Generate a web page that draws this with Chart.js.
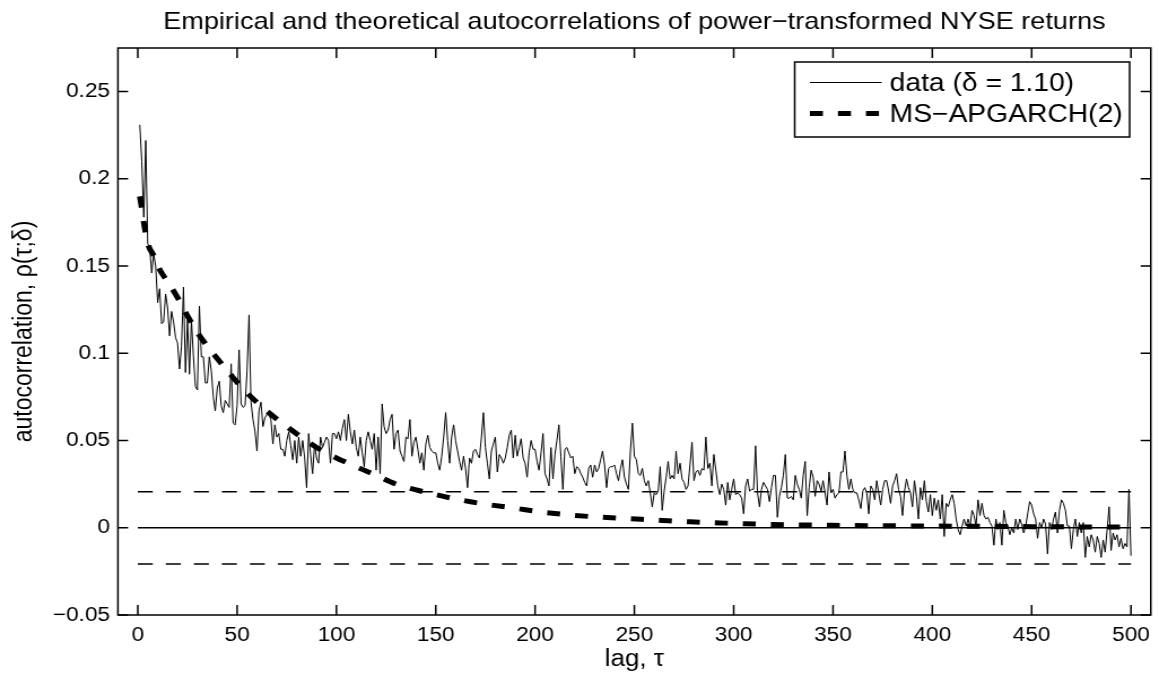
<!DOCTYPE html>
<html>
<head>
<meta charset="utf-8">
<script src="https://cdn.jsdelivr.net/npm/chart.js@4.4.0/dist/chart.umd.min.js"></script>
<style>
html, body { margin: 0; padding: 0; background: #fff; overflow: hidden; }
/* the reference is stretched sideways, so the whole canvas is too */
#wrap { width: 1026px; height: 678px; transform: scaleX(1.1296); transform-origin: 0 0; }
</style>
</head>
<body>
<div id="wrap"><canvas id="graph" width="1026" height="678"></canvas></div>
<script>
'use strict';

// empirical autocorrelation, lags 1..500
const acfValues = [
  0.231, 0.210, 0.178, 0.222, 0.163, 0.160, 0.146, 0.157, 0.150, 0.129,
  0.137, 0.117, 0.118, 0.134, 0.126, 0.110, 0.124, 0.118, 0.109, 0.106,
  0.091, 0.104, 0.138, 0.089, 0.119, 0.088, 0.119, 0.098, 0.081, 0.079,
  0.127, 0.098, 0.098, 0.083, 0.083, 0.098, 0.090, 0.075, 0.067, 0.080,
  0.084, 0.070, 0.066, 0.073, 0.071, 0.069, 0.094, 0.060, 0.059, 0.070,
  0.102, 0.071, 0.069, 0.070, 0.090, 0.122, 0.072, 0.062, 0.055, 0.044,
  0.067, 0.072, 0.058, 0.063, 0.065, 0.065, 0.062, 0.048, 0.059, 0.052,
  0.054, 0.045, 0.045, 0.041, 0.050, 0.055, 0.047, 0.039, 0.050, 0.037,
  0.052, 0.041, 0.050, 0.040, 0.023, 0.054, 0.042, 0.031, 0.048, 0.040,
  0.037, 0.052, 0.046, 0.049, 0.052, 0.050, 0.037, 0.054, 0.054, 0.051,
  0.055, 0.050, 0.057, 0.062, 0.050, 0.065, 0.055, 0.048, 0.056, 0.046,
  0.041, 0.052, 0.043, 0.035, 0.050, 0.055, 0.050, 0.045, 0.054, 0.033,
  0.052, 0.031, 0.071, 0.058, 0.054, 0.056, 0.062, 0.065, 0.045, 0.054,
  0.056, 0.044, 0.041, 0.038, 0.052, 0.051, 0.062, 0.041, 0.049, 0.052,
  0.045, 0.037, 0.043, 0.033, 0.048, 0.053, 0.046, 0.044, 0.043, 0.043,
  0.037, 0.033, 0.041, 0.052, 0.066, 0.050, 0.037, 0.052, 0.059, 0.050,
  0.044, 0.038, 0.033, 0.041, 0.034, 0.023, 0.040, 0.037, 0.044, 0.045,
  0.042, 0.040, 0.052, 0.066, 0.046, 0.037, 0.028, 0.044, 0.048, 0.052,
  0.032, 0.042, 0.040, 0.037, 0.040, 0.046, 0.053, 0.056, 0.040, 0.053,
  0.041, 0.046, 0.051, 0.040, 0.037, 0.029, 0.043, 0.050, 0.045, 0.045,
  0.038, 0.033, 0.043, 0.054, 0.031, 0.028, 0.024, 0.046, 0.028, 0.042,
  0.050, 0.059, 0.041, 0.022, 0.045, 0.046, 0.043, 0.040, 0.041, 0.031,
  0.035, 0.034, 0.031, 0.029, 0.026, 0.024, 0.034, 0.036, 0.029, 0.036,
  0.032, 0.034, 0.039, 0.044, 0.036, 0.023, 0.034, 0.035, 0.035, 0.036,
  0.031, 0.027, 0.034, 0.039, 0.029, 0.025, 0.022, 0.044, 0.060, 0.041,
  0.039, 0.031, 0.030, 0.034, 0.027, 0.024, 0.027, 0.020, 0.012, 0.020,
  0.019, 0.021, 0.035, 0.010, 0.021, 0.029, 0.038, 0.028, 0.030, 0.028,
  0.044, 0.031, 0.037, 0.028, 0.026, 0.022, 0.024, 0.036, 0.049, 0.027,
  0.032, 0.033, 0.030, 0.034, 0.033, 0.052, 0.034, 0.037, 0.024, 0.042,
  0.033, 0.024, 0.019, 0.025, 0.022, 0.013, 0.026, 0.016, 0.022, 0.028,
  0.019, 0.020, 0.019, 0.017, 0.008, 0.024, 0.028, 0.021, 0.022, 0.022,
  0.047, 0.020, 0.012, 0.022, 0.026, 0.024, 0.022, 0.015, 0.023, 0.030,
  0.030, 0.006, 0.018, 0.023, 0.030, 0.042, 0.017, 0.017, 0.018, 0.016,
  0.030, 0.025, 0.022, 0.017, 0.030, 0.038, 0.007, 0.023, 0.033, 0.029,
  0.018, 0.027, 0.025, 0.021, 0.027, 0.020, 0.013, 0.032, 0.020, 0.022,
  0.017, 0.019, 0.020, 0.032, 0.032, 0.044, 0.030, 0.022, 0.028, 0.022,
  0.020, 0.020, 0.016, 0.011, 0.021, 0.023, 0.020, 0.008, 0.024, 0.022,
  0.016, 0.027, 0.020, 0.013, 0.022, 0.027, 0.027, 0.021, 0.014, 0.024,
  0.027, 0.031, 0.022, 0.018, 0.007, 0.021, 0.028, 0.023, 0.020, 0.012,
  0.027, 0.018, 0.005, 0.023, 0.016, 0.027, 0.015, 0.009, 0.019, 0.007,
  0.017, 0.010, 0.016, 0.005, 0.019, -0.005, 0.014, 0.012, 0.016, 0.019,
  0.014, 0.005, -0.001, -0.004, 0.001, 0.005, 0.001, 0.005, 0.001, 0.010,
  0.007, 0.001, 0.016, 0.007, 0.014, 0.007, 0.005, 0.006, 0.003, 0.001,
  -0.010, 0.005, -0.001, 0.003, -0.010, 0.010, 0.003, 0.001, -0.004, -0.000,
  -0.003, 0.005, -0.001, 0.005, 0.002, -0.003, 0.001, 0.008, 0.015, 0.013,
  0.008, 0.005, -0.006, 0.003, 0.000, 0.005, 0.002, -0.015, 0.003, -0.001,
  0.005, 0.009, -0.003, 0.010, 0.016, 0.014, 0.010, 0.001, 0.001, -0.012,
  -0.001, 0.005, -0.005, 0.003, -0.003, 0.003, -0.017, -0.005, -0.011, -0.004,
  -0.007, -0.014, -0.005, -0.009, -0.017, -0.007, -0.014, -0.001, 0.012, -0.013,
  -0.003, -0.007, -0.004, -0.011, -0.006, -0.012, -0.009, -0.011, 0.022, -0.016
];
const lags = acfValues.map((v, i) => i + 1);

// theoretical MS-APGARCH(2) autocorrelation, read at some lags
const msLags = [1, 2, 3, 5, 8, 11, 15, 20, 25, 30, 35, 40, 48, 57, 67, 75, 90, 100, 110, 120,
  131, 147, 160, 175, 190, 200, 216, 231, 246, 264, 278, 293, 306, 320, 350, 380, 410, 440, 470, 500];
const msValues = [0.190, 0.183, 0.175, 0.163, 0.156, 0.148, 0.141, 0.132, 0.1215, 0.112,
  0.104, 0.097, 0.086, 0.075, 0.065, 0.058, 0.046, 0.040, 0.035, 0.030,
  0.0246, 0.0198, 0.0165, 0.0135, 0.0112, 0.0095, 0.0075, 0.0062, 0.0053, 0.0042,
  0.0034, 0.0028, 0.0023, 0.0019, 0.0014, 0.0011, 0.0009, 0.0007, 0.0005, 0.0004];

// +/- confidence band and zero line
const bandLags = [0, 500];
const bandLevel = 0.0207;

const xTicks = [0, 50, 100, 150, 200, 250, 300, 350, 400, 450, 500];
const yTicks = [-0.05, 0, 0.05, 0.1, 0.15, 0.2, 0.25];

const titleText = 'Empirical and theoretical autocorrelations of power\u2212transformed NYSE returns';
const xTitle = 'lag, \u03c4';
const yTitle = 'autocorrelation, \u03c1(\u03c4;\u03b4)';
const seriesNames = ['data (\u03b4 = 1.10)', 'MS\u2212APGARCH(2)'];

const FONT = '"Liberation Sans", Arial, Helvetica, sans-serif';

function fmtTick(v) {
  return v < 0 ? '\u2212' + String(Math.abs(v)) : String(v);
}

// box, inward ticks, titles and legend (MATLAB look)
const framePlugin = {
  id: 'frame',
  afterDraw(chart) {
    const ctx = chart.ctx;
    const a = chart.chartArea;
    const xs = chart.scales.x;
    const ys = chart.scales.y;
    ctx.save();
    ctx.strokeStyle = '#000';
    ctx.lineWidth = 1.5;
    ctx.setLineDash([]);
    ctx.strokeRect(a.left, a.top, a.right - a.left, a.bottom - a.top);
    ctx.beginPath();
    xTicks.forEach(function(v) {
      const px = xs.getPixelForValue(v);
      ctx.moveTo(px, a.bottom); ctx.lineTo(px, a.bottom - 10);
      ctx.moveTo(px, a.top); ctx.lineTo(px, a.top + 10);
    });
    yTicks.forEach(function(v) {
      const py = ys.getPixelForValue(v);
      ctx.moveTo(a.left, py); ctx.lineTo(a.left + 9, py);
      ctx.moveTo(a.right, py); ctx.lineTo(a.right - 9, py);
    });
    ctx.stroke();

    ctx.fillStyle = '#000';
    // title
    ctx.font = '24px ' + FONT;
    ctx.textAlign = 'center';
    ctx.textBaseline = 'alphabetic';
    ctx.fillText(titleText, (a.left + a.right) / 2, 29);
    // axis titles
    ctx.font = '23px ' + FONT;
    ctx.textBaseline = 'middle';
    ctx.fillText(xTitle, (a.left + a.right) / 2, 660);
    ctx.save();
    ctx.translate(22, (a.top + a.bottom) / 2);
    ctx.rotate(-Math.PI / 2);
    ctx.fillText(yTitle, 0, 0);
    ctx.restore();

    // legend
    const lx = 703.5, ly = 62, lw = 296.5, lh = 75;
    ctx.fillStyle = '#fff';
    ctx.fillRect(lx, ly, lw, lh);
    ctx.lineWidth = 1.5;
    ctx.strokeRect(lx, ly, lw, lh);
    const rows = [84, 115];
    const ds = chart.data.datasets;
    [1, 0].forEach(function(di, k) {
      const d = ds[di];
      ctx.beginPath();
      ctx.lineWidth = d.borderWidth;
      ctx.lineCap = 'butt';
      ctx.setLineDash(d.borderDash || []);
      ctx.moveTo(717, rows[k] - 1.5);
      ctx.lineTo(780.5, rows[k] - 1.5);
      ctx.stroke();
    });
    ctx.setLineDash([]);
    ctx.fillStyle = '#000';
    ctx.font = '25px ' + FONT;
    ctx.textAlign = 'left';
    ctx.textBaseline = 'middle';
    ctx.fillText(seriesNames[0], 787.6, rows[0]);
    ctx.fillText(seriesNames[1], 787.6, rows[1]);
    ctx.restore();
  }
};

const ctx = document.querySelector('#graph').getContext('2d');
const chart = new Chart(ctx, {
  type: 'line',
  data: {
    datasets: [
      {
        label: seriesNames[1],
        data: msLags.map((x, i) => ({ x: x, y: msValues[i] })),
        borderColor: '#000', borderWidth: 5, borderDash: [11.5, 13.3],
        borderCapStyle: 'butt', pointRadius: 0, cubicInterpolationMode: 'monotone'
      },
      {
        label: seriesNames[0],
        data: lags.map((x, i) => ({ x: x, y: acfValues[i] })),
        borderColor: '#000', borderWidth: 1, pointRadius: 0, tension: 0
      },
      {
        label: 'band+',
        data: bandLags.map(x => ({ x: x, y: bandLevel })),
        borderColor: '#000', borderWidth: 1.5, borderDash: [13.3, 11.5], pointRadius: 0
      },
      {
        label: 'band-',
        data: bandLags.map(x => ({ x: x, y: -bandLevel })),
        borderColor: '#000', borderWidth: 1.5, borderDash: [13.3, 11.5], pointRadius: 0
      },
      {
        label: 'zero',
        data: bandLags.map(x => ({ x: x, y: 0 })),
        borderColor: '#000', borderWidth: 1.5, pointRadius: 0
      }
    ]
  },
  options: {
    responsive: false,
    animation: false,
    devicePixelRatio: 1,
    layout: { padding: { left: 0, top: 48, right: 6.5, bottom: 0 } },
    plugins: { legend: { display: false }, title: { display: false }, tooltip: { enabled: false } },
    scales: {
      x: {
        type: 'linear', min: -10, max: 510,
        grid: { display: false, drawTicks: false },
        border: { display: false },
        afterBuildTicks: function(s) { s.ticks = xTicks.map(v => ({ value: v })); },
        afterFit: function(s) { s.height = 63; },
        ticks: { color: '#000', padding: 8, maxRotation: 0, autoSkip: false, font: { family: FONT, size: 20 } }
      },
      y: {
        type: 'linear', min: -0.05, max: 0.275,
        grid: { display: false, drawTicks: false },
        border: { display: false },
        afterBuildTicks: function(s) { s.ticks = yTicks.map(v => ({ value: v })); },
        afterFit: function(s) { s.width = 104.4; },
        ticks: { color: '#000', padding: 7, autoSkip: false, font: { family: FONT, size: 20 }, callback: fmtTick }
      }
    }
  },
  plugins: [framePlugin]
});
</script>
</body>
</html>
